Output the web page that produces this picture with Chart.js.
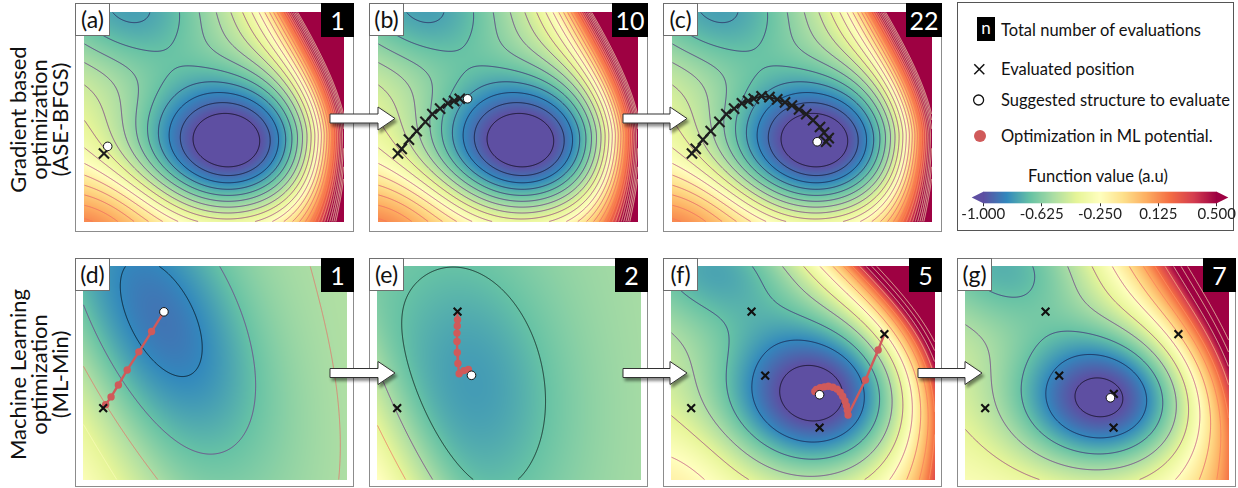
<!DOCTYPE html>
<html>
<head>
<meta charset="utf-8">
<title>ASE-BFGS vs ML-Min</title>
<script src="https://cdn.jsdelivr.net/npm/chart.js@4.4.1/dist/chart.umd.min.js"></script>
<style>
  html, body { margin: 0; padding: 0; background: #fff; }
  body { width: 1238px; height: 488px; position: relative; overflow: hidden;
         font-family: Lato, "Open Sans", sans-serif; color: #111; }
  canvas { position: absolute; }
  .tag { position: absolute; background: #fff; border: 1px solid #6e6e6e; box-sizing: border-box;
         font-size: 23px; line-height: 30px; text-align: center; }
  .count { position: absolute; background: #000; color: #fff; font-size: 25px; line-height: 34px; text-align: center; }
  .rowtitle { position: absolute; width: 240px; height: 63px; text-align: center; font-size: 22px;
              line-height: 21px; transform: rotate(-90deg); }
  #legend { position: absolute; left: 957px; top: 2px; width: 277px; height: 229px;
            border: 1px solid #555; box-sizing: border-box; }
  .legtext { position: absolute; font-size: 16.5px; line-height: 18px; white-space: nowrap; }
</style>
</head>
<body>

<div class="rowtitle" style="left:-82px; top:88px;">Gradient based<br>optimization<br>(ASE-BFGS)</div>
<div class="rowtitle" style="left:-82px; top:343px;">Machine Learning<br>optimization<br>(ML-Min)</div>

<div id="legend"></div>
<div style="position:absolute; left:977px; top:17px; width:18px; height:24px; background:#000; color:#fff; font-size:17px; line-height:22px; text-align:center;">n</div>
<div class="legtext" style="left:1001px; top:21px;">Total number of evaluations</div>
<div class="legtext" style="left:1001px; top:60px;">Evaluated position</div>
<div class="legtext" style="left:1001px; top:91px;">Suggested structure to evaluate</div>
<div class="legtext" style="left:1001px; top:127px;">Optimization in ML potential.</div>
<div class="legtext" style="left:1000px; top:167px; width:196px; text-align:center;">Function value (a.u)</div>
<svg style="position:absolute; left:0; top:0;" width="1238" height="488">
  <line x1="974.3" y1="64.3" x2="984.3" y2="74.3" stroke="#111" stroke-width="1.5"/>
  <line x1="974.3" y1="74.3" x2="984.3" y2="64.3" stroke="#111" stroke-width="1.5"/>
  <circle cx="978.6" cy="100" r="5" fill="#fff" stroke="#111" stroke-width="1.3"/>
  <circle cx="980" cy="136" r="6" fill="#d05a5a"/>
</svg>
<canvas id="cbar" width="283" height="40" style="left:955px; top:182px; width:283px; height:40px;"></canvas>

<script>
// ---------- values ----------
// every panel uses the same frame: x 0..278 (left->right), y 0..228 (bottom->top)

// ASE-BFGS trajectory, panels (a)(b)(c) show the first 1, 10 and 22 steps
const bfgsX = [21, 25, 32.7, 41, 50.3, 57.7, 66, 74.3, 81, 87, 95.3, 103.7, 112, 120.3, 127.7, 135.3, 143, 150.3, 157.7, 162, 167, 164.3];
const bfgsY = [75, 80, 90, 99.3, 109.3, 117.7, 123.7, 129.3, 132, 134.3, 137, 136, 133.7, 130.3, 127, 122.7, 117.7, 111, 103.7, 97.7, 91.7, 87.7];
const bfgsShown = [1, 10, 22];
const bfgsNextX = [25, 95.3, 154.7];
const bfgsNextY = [82.7, 134.3, 87.7];

// ML-Min evaluated points, panels (d)(e)(f)(g)
const mlEvalX = [21.7, 85.3, 99.7, 157, 225.3, 157.3];
const mlEvalY = [76, 179, 110.7, 55.3, 154.9, 91.3];
const mlShown = [1, 2, 5, 6];
const mlNextX = [85.7, 100, 157, 153.7];
const mlNextY = [178.7, 111, 90.3, 87];

// relaxation inside the ML potential (red dots)
const mlPathDX = [24.3, 30, 37.7, 47, 59.3, 72.7];
const mlPathDY = [79.7, 88, 100.7, 116.7, 136, 157.7];
const mlPathEX = [85.3, 85, 84.7, 84.7, 85, 85.7, 87, 92, 96.7];
const mlPathEY = [170.3, 163.7, 156, 147, 135.3, 123.7, 112.7, 116, 117.3];
const mlPathFX = [218.7, 205.3, 187, 186.3, 185.3, 183.7, 181.3, 178.7, 175.3, 171, 166.3, 162, 157.7, 153.7, 152];
const mlPathFY = [138, 106, 68.7, 73.7, 78.7, 83.7, 88.7, 93, 96.3, 98.3, 99.3, 98.7, 97.7, 96, 93.7];
const mlPathStart = [0, 1, 4];   // index in mlEval of the point each relaxation starts from

const topTags = ['(a)', '(b)', '(c)'];
const bottomTags = ['(d)', '(e)', '(f)', '(g)'];
const topCounts = ['1', '10', '22'];
const bottomCounts = ['1', '2', '5', '7'];

// contour levels and colour bar
const levelsTrue = [-1.0, -0.925, -0.85, -0.775, -0.7, -0.625, -0.55, -0.475, -0.4, -0.325, -0.25, -0.175, -0.1,
                    -0.025, 0.05, 0.125, 0.2, 0.275, 0.35, 0.425, 0.5, 0.575, 0.65, 0.725, 0.8];
const levelsMl = [-1.0, -0.85, -0.7, -0.55, -0.4, -0.25, -0.1, 0.05, 0.2, 0.35, 0.5, 0.65, 0.8];
const cbMin = -1.0, cbMax = 0.5;
const cbTicks = [-1.0, -0.625, -0.25, 0.125, 0.5];

// ---------- surface models (wells: amplitude, cx, cy, sx, sy, angle) ----------
const wellsTrue = [[-1.0, 159, 80, 114, 88, 0], [-0.3, 55, 225, 90, 65, 0], [0.25, 0, 0, 90, 55, 0]];
const wellsD = [[-0.32, 87, 168, 165, 85, -63]];
const wellsE = [[-0.2, 107, 101, 148, 96, -79]];
const wellsF = [[-0.8, 157, 87, 110, 92, 0], [-0.3, 50, 225, 90, 65, 0], [0.12, 0, 0, 80, 60, 0]];
const wellsG = [[-0.8, 151, 85, 105, 82, 0], [-0.3, 50, 225, 90, 65, 0]];

function gauss(x, y, w) {
  const a = w[5] * Math.PI / 180, c = Math.cos(a), s = Math.sin(a);
  const dx = x - w[1], dy = y - w[2];
  const u = (dx * c + dy * s) / w[3], v = (-dx * s + dy * c) / w[4];
  return w[0] * Math.exp(-(u * u + v * v));
}
function wells(x, y, ws) { let s = 0; for (const w of ws) s += gauss(x, y, w); return s; }
function softplus(z) { return z > 30 ? z : Math.log1p(Math.exp(z)); }

function surfTrue(x, y) {
  const xw = y > 95 ? 273 - 53 * Math.pow((y - 95) / 133, 1.5) : 273 - 4 * Math.pow((95 - y) / 95, 2);
  return -0.1 + wells(x, y, wellsTrue) - 0.002 * (y - 80) + 0.0007 * (x - 152) + 0.86 * Math.exp((x - xw) / 24);
}
function surfD(x, y) {
  return -0.58 + wells(x, y, wellsD) + 0.00025 * (x - 88) + 0.054 * softplus((91.6 - (0.89 * x + 0.45 * y)) / 15);
}
function surfE(x, y) {
  return -0.6 + wells(x, y, wellsE) + 0.00025 * (x - 103) + 0.0624 * softplus((79.5 - (0.89 * x + 0.45 * y)) / 12);
}
function surfF(x, y) {
  return -0.3 + wells(x, y, wellsF) - 0.001 * (y - 84) + 0.0003 * (x - 157)
    + 0.98 * Math.exp((0.695 * x + 0.719 * y - 308) / 32) + 0.5 * Math.exp((x - 275) / 35);
}
function surfG(x, y) {
  return -0.3 + wells(x, y, wellsG) - 0.001 * (y - 85) + 0.0003 * (x - 151)
    + 0.94 * Math.exp((0.826 * x + 0.565 * y - 312) / 48) + 0.25 * Math.exp((x - 278) / 35);
}

// ---------- colour maps ----------
const spectralHex = ['#5e4fa2', '#3288bd', '#66c2a5', '#abdda4', '#e6f598', '#ffffbf', '#fee08b', '#fdae61', '#f46d43', '#d53e4f', '#9e0142'];
const magmaHex = ['#000004', '#140e36', '#3b0f70', '#641a80', '#8c2981', '#b73779', '#de4968', '#f7705c', '#fe9f6d', '#fecf92', '#fcfdbf'];
const rgbOf = h => [parseInt(h.slice(1, 3), 16), parseInt(h.slice(3, 5), 16), parseInt(h.slice(5, 7), 16)];
const SPECTRAL = spectralHex.map(rgbOf);
const MAGMA = magmaHex.map(rgbOf);
function ramp(stops, t) {
  t = Math.min(1, Math.max(0, t));
  const n = stops.length - 1, k = Math.min(n - 1, Math.floor(t * n)), f = t * n - k;
  const a = stops[k], b = stops[k + 1];
  return [a[0] + (b[0] - a[0]) * f, a[1] + (b[1] - a[1]) * f, a[2] + (b[2] - a[2]) * f];
}

// ---------- heat map + contour layer, drawn through the chart scales ----------
const panelSettings = {};

function strokeLevel(ctx, vals, w, h, ox, oy, L) {
  ctx.beginPath();
  for (let j = 0; j < h - 1; j++) {
    for (let i = 0; i < w - 1; i++) {
      const a = vals[j * w + i], b = vals[j * w + i + 1], c = vals[(j + 1) * w + i + 1], d = vals[(j + 1) * w + i];
      const ca = a > L, cb = b > L, cc = c > L, cd = d > L;
      if (ca === cb && cb === cc && cc === cd) continue;
      const p = [];
      const top = ca !== cb ? [i + (L - a) / (b - a), j] : null;
      const right = cb !== cc ? [i + 1, j + (L - b) / (c - b)] : null;
      const bot = cc !== cd ? [i + 1 - (L - c) / (d - c), j + 1] : null;
      const left = cd !== ca ? [i, j + 1 - (L - d) / (a - d)] : null;
      if (top && right && bot && left) {
        if (((a + b + c + d) / 4 > L) === ca) { p.push(top, right, bot, left); }
        else { p.push(top, left, right, bot); }
      } else {
        for (const q of [top, right, bot, left]) if (q) p.push(q);
      }
      for (let k = 0; k + 1 < p.length; k += 2) {
        ctx.moveTo(ox + p[k][0] + 0.5, oy + p[k][1] + 0.5);
        ctx.lineTo(ox + p[k + 1][0] + 0.5, oy + p[k + 1][1] + 0.5);
      }
    }
  }
  ctx.stroke();
}

const fieldLayer = {
  id: 'fieldLayer',
  beforeDatasetsDraw(chart) {
    const s = panelSettings[chart.canvas.id];
    if (!s) return;
    const { ctx, chartArea, scales } = chart;
    const ox = Math.round(chartArea.left), oy = Math.round(chartArea.top);
    const w = Math.round(chartArea.right - chartArea.left), h = Math.round(chartArea.bottom - chartArea.top);
    const vals = new Float32Array(w * h);
    const img = ctx.createImageData(w, h);
    const xs = [];
    for (let i = 0; i < w; i++) xs.push(scales.x.getValueForPixel(ox + i + 0.5));
    for (let j = 0; j < h; j++) {
      const yv = scales.y.getValueForPixel(oy + j + 0.5);
      for (let i = 0; i < w; i++) {
        const v = s.fn(xs[i], yv);
        vals[j * w + i] = v;
        const c = ramp(SPECTRAL, (v - cbMin) / (cbMax - cbMin));
        const k = (j * w + i) * 4;
        img.data[k] = c[0]; img.data[k + 1] = c[1]; img.data[k + 2] = c[2]; img.data[k + 3] = 255;
      }
    }
    ctx.putImageData(img, ox, oy);
    ctx.save();
    ctx.lineWidth = 1;
    for (const L of s.levels) {
      const c = ramp(MAGMA, (L - s.lo) / (s.hi - s.lo));
      ctx.strokeStyle = `rgba(${c[0] | 0},${c[1] | 0},${c[2] | 0},0.68)`;
      strokeLevel(ctx, vals, w, h, ox, oy, L);
    }
    ctx.restore();
  },
  afterDraw(chart) {
    const ctx = chart.ctx;
    ctx.save();
    ctx.strokeStyle = '#8c8c8c';
    ctx.lineWidth = 1;
    ctx.strokeRect(0.5, 0.5, chart.width - 1, chart.height - 1);
    ctx.restore();
  }
};

Chart.defaults.font.family = 'Lato, "Open Sans", sans-serif';

function makePanel(id, left, top, fn, levels, lo, hi, datasets) {
  const cv = document.createElement('canvas');
  cv.id = id; cv.width = 279; cv.height = 229;
  cv.style.left = left + 'px'; cv.style.top = top + 'px';
  cv.style.width = '279px'; cv.style.height = '229px';
  document.body.appendChild(cv);
  panelSettings[id] = { fn, levels, lo, hi };
  new Chart(cv, {
    type: 'scatter',
    data: { datasets },
    options: {
      responsive: false, animation: false, devicePixelRatio: 1, events: [],
      layout: { padding: 0 },
      plugins: { legend: { display: false }, tooltip: { enabled: false } },
      scales: {
        x: { type: 'linear', min: 0, max: 278, display: false },
        y: { type: 'linear', min: 0, max: 228, display: false }
      }
    },
    plugins: [fieldLayer]
  });
}

function addTag(text, left, top) {
  const d = document.createElement('div');
  d.className = 'tag'; d.textContent = text;
  d.style.left = left + 'px'; d.style.top = top + 'px'; d.style.width = '35px'; d.style.height = '33px';
  document.body.appendChild(d);
}
function addCount(text, right, top) {
  const d = document.createElement('div');
  const w = text.length > 1 ? 36 : 33;
  d.className = 'count'; d.textContent = text;
  d.style.left = (right - w) + 'px'; d.style.top = top + 'px'; d.style.width = w + 'px'; d.style.height = '34px';
  document.body.appendChild(d);
}

const circleSet = (x, y) => ({
  data: [{ x, y }], pointStyle: 'circle', pointRadius: 4.3, pointBackgroundColor: '#fff',
  pointBorderColor: '#111', pointBorderWidth: 1, order: 0
});

// top row: true surface, ASE-BFGS
const topLeft = [75, 369, 663];
topLeft.forEach((lx, k) => {
  const n = bfgsShown[k];
  const pts = bfgsX.slice(0, n).map((x, i) => ({ x, y: bfgsY[i] }));
  makePanel('top' + k, lx, 3, surfTrue, levelsTrue, -1.0, 0.6, [
    circleSet(bfgsNextX[k], bfgsNextY[k]),
    { data: pts, showLine: true, borderColor: '#1e1e1e', borderWidth: 1.8, pointStyle: 'crossRot',
      pointRadius: 7.2, pointBorderWidth: 2.1, pointBorderColor: '#1e1e1e', pointBackgroundColor: 'rgba(0,0,0,0)', order: 1 }
  ]);
  addTag(topTags[k], lx, 3);
  addCount(topCounts[k], lx + 279, 3);
});

// bottom row: ML surrogate, ML-Min
const bottomLeft = [75, 369, 663, 957];
const bottomSurf = [surfD, surfE, surfF, surfG];
const lineLo = [-0.85, -0.7, -1.0, -1.0];
const lineHi = [-0.4, -0.25, 0.5, 0.5];
const pathXs = [mlPathDX, mlPathEX, mlPathFX];
const pathYs = [mlPathDY, mlPathEY, mlPathFY];
bottomLeft.forEach((lx, k) => {
  const evals = mlEvalX.slice(0, mlShown[k]).map((x, i) => ({ x, y: mlEvalY[i] }));
  const sets = [
    circleSet(mlNextX[k], mlNextY[k]),
    { data: evals, pointStyle: 'crossRot', pointRadius: 5.5, pointBorderWidth: 2.1,
      pointBorderColor: '#111', pointBackgroundColor: 'rgba(0,0,0,0)', order: 1 }
  ];
  if (k < 3) {
    const s0 = mlPathStart[k];
    const pts = [{ x: mlEvalX[s0], y: mlEvalY[s0] }]
      .concat(pathXs[k].map((x, i) => ({ x, y: pathYs[k][i] })))
      .concat([{ x: mlNextX[k], y: mlNextY[k] }]);
    const radii = pts.map((p, i) => (i === 0 || i === pts.length - 1) ? 0 : 3.7);
    sets.push({ data: pts, showLine: true, borderColor: '#d05a5a', borderWidth: 2.4,
      pointRadius: radii, pointBackgroundColor: '#d05a5a', pointBorderWidth: 0, order: 2 });
  }
  makePanel('bot' + k, lx, 258, bottomSurf[k], levelsMl, lineLo[k], lineHi[k], sets);
  addTag(bottomTags[k], lx, 258);
  addCount(bottomCounts[k], Math.min(lx + 279, 1237), 258);
});

// ---------- colour bar ----------
const cbarLayer = {
  id: 'cbarLayer',
  beforeDatasetsDraw(chart) {
    const { ctx, chartArea: a } = chart;
    for (let px = Math.floor(a.left); px < Math.ceil(a.right); px++) {
      const c = ramp(SPECTRAL, (px + 0.5 - a.left) / (a.right - a.left));
      ctx.fillStyle = `rgb(${c[0] | 0},${c[1] | 0},${c[2] | 0})`;
      ctx.fillRect(px, a.top, 1, a.bottom - a.top);
    }
    const mid = (a.top + a.bottom) / 2, tri = 11.6;
    ctx.fillStyle = spectralHex[0];
    ctx.beginPath(); ctx.moveTo(a.left - tri, mid); ctx.lineTo(a.left, a.top); ctx.lineTo(a.left, a.bottom); ctx.closePath(); ctx.fill();
    ctx.fillStyle = spectralHex[spectralHex.length - 1];
    ctx.beginPath(); ctx.moveTo(a.right + tri, mid); ctx.lineTo(a.right, a.top); ctx.lineTo(a.right, a.bottom); ctx.closePath(); ctx.fill();
  }
};
new Chart(document.getElementById('cbar'), {
  type: 'scatter',
  data: { datasets: [] },
  options: {
    responsive: false, animation: false, devicePixelRatio: 1, events: [],
    layout: { padding: { left: 28.3, right: 21.3, top: 9.7, bottom: 0 } },
    plugins: { legend: { display: false }, tooltip: { enabled: false } },
    scales: {
      x: {
        type: 'linear', min: cbMin, max: cbMax,
        afterBuildTicks: s => { s.ticks = cbTicks.map(v => ({ value: v })); },
        afterFit: s => { s.height = 18.7; },
        ticks: { callback: v => Number(v).toFixed(3), font: { size: 15 }, color: '#222', padding: -1,
                 maxRotation: 0, autoSkip: false },
        grid: { drawOnChartArea: false, drawTicks: true, tickLength: 3, color: '#333' },
        border: { display: false }
      },
      y: { display: false, min: 0, max: 1 }
    }
  },
  plugins: [cbarLayer]
});

// ---------- arrows between panels ----------
const arrowSpecs = [[330, 395, 118.5], [623, 687, 118.5], [330, 395, 373], [623, 687, 373], [918, 982, 373]];
const svgNS = 'http://www.w3.org/2000/svg';
const svg = document.createElementNS(svgNS, 'svg');
svg.setAttribute('width', '1238'); svg.setAttribute('height', '488');
svg.style.position = 'absolute'; svg.style.left = '0'; svg.style.top = '0';
svg.innerHTML = '<defs><filter id="sh" x="-20%" y="-60%" width="150%" height="220%">' +
  '<feDropShadow dx="2" dy="3" stdDeviation="1.6" flood-color="#000" flood-opacity="0.45"/></filter></defs>';
arrowSpecs.forEach(([x0, x1, cy]) => {
  const hb = x1 - 17;
  const pts = [[x0, cy - 4.5], [hb, cy - 4.5], [hb, cy - 11.5], [x1, cy], [hb, cy + 11.5], [hb, cy + 4.5], [x0, cy + 4.5]];
  const poly = document.createElementNS(svgNS, 'polygon');
  poly.setAttribute('points', pts.map(p => p.join(',')).join(' '));
  poly.setAttribute('fill', '#fff'); poly.setAttribute('stroke', '#333'); poly.setAttribute('stroke-width', '1');
  poly.setAttribute('filter', 'url(#sh)');
  svg.appendChild(poly);
});
document.body.appendChild(svg);
</script>
</body>
</html>
